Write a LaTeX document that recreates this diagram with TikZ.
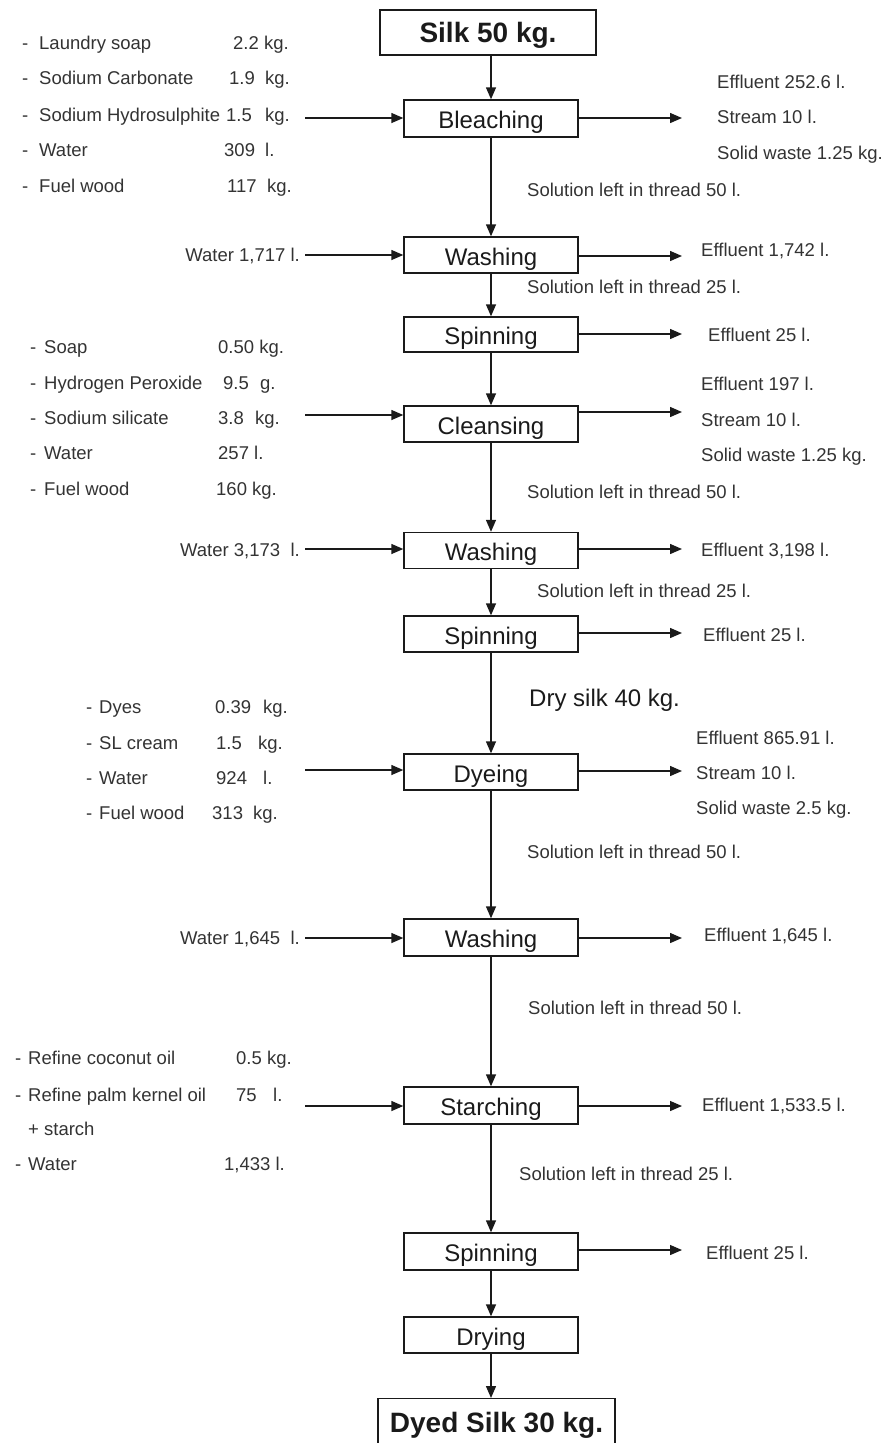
\documentclass[tikz,border=0pt]{standalone}
\usepackage{fontspec}
\setmainfont{Liberation Sans}
\usetikzlibrary{arrows.meta}
\definecolor{ink}{HTML}{1A1A1A}
\definecolor{txt}{HTML}{333333}

\begin{document}
\begin{tikzpicture}[x=1pt,y=-1pt,
  flow/.style={draw=ink, line width=1.4pt, -{Triangle[length=12pt,width=10pt]}},
  procbox/.style={draw=ink, line width=1.4pt, minimum width=174pt, minimum height=36pt,
    inner sep=0pt, text height=20pt, text depth=0pt, text=ink,
    font=\fontsize{24}{28}\selectfont},
  endbox/.style={procbox, minimum width=216pt, minimum height=45pt,
    font=\fontsize{28}{32}\selectfont\bfseries},
  side/.style={anchor=west, inner sep=0pt, text height=13pt, text depth=0pt,
    text=txt, font=\fontsize{18.5}{22}\selectfont},
  sidel/.style={side, anchor=east},
  big/.style={anchor=west, inner sep=0pt, text height=17pt, text depth=0pt,
    text=ink, font=\fontsize{24}{28}\selectfont},
]
\useasboundingbox (0,0) rectangle (888,1443);
\clip (0,0) rectangle (888,1443);

% ---------- process chain ----------
\node[endbox] (silk) at (488,32.5) {Silk 50 kg.};
\node[procbox, minimum height=37pt] (bleach) at (491,118.5) {Bleaching};
\node[procbox] (wash1) at (491,255) {Washing};
\node[procbox, minimum height=35pt] (spin1) at (491,334.5) {Spinning};
\node[procbox] (cleanse) at (491,424) {Cleansing};
\node[procbox] (wash2) at (491,550.5) {Washing};
\node[procbox] (spin2) at (491,634) {Spinning};
\node[procbox] (dye) at (491,772) {Dyeing};
\node[procbox, minimum height=37pt] (wash3) at (491,937.5) {Washing};
\node[procbox, minimum height=37pt] (starch) at (491,1105.5) {Starching};
\node[procbox, minimum height=37pt] (spin3) at (491,1251.5) {Spinning};
\node[procbox] (dry) at (491,1335) {Drying};
\node[endbox, minimum width=237pt, minimum height=48pt, anchor=north]
  (dyed) at (496.5,1398) {Dyed Silk 30 kg.};

\draw[flow] (bleach.north |- silk.south) -- (bleach.north);
\draw[flow] (bleach) -- (wash1);
\draw[flow] (wash1) -- (spin1);
\draw[flow] (spin1) -- (cleanse);
\draw[flow] (cleanse) -- (wash2);
\draw[flow] (wash2) -- (spin2);
\draw[flow] (spin2) -- (dye);
\draw[flow] (dye) -- (wash3);
\draw[flow] (wash3) -- (starch);
\draw[flow] (starch) -- (spin3);
\draw[flow] (spin3) -- (dry);
\draw[flow] (dry.south) -- (dry.south |- dyed.north);

% ---------- inputs (left) ----------
\coordinate (in1) at (305,118);
\coordinate (in2) at (305,255);
\coordinate (in3) at (305,415);
\coordinate (in4) at (305,549);
\coordinate (in5) at (305,770);
\coordinate (in6) at (305,938);
\coordinate (in7) at (305,1106);
\draw[flow] (in1) -- (in1 -| bleach.west);
\draw[flow] (in2) -- (in2 -| wash1.west);
\draw[flow] (in3) -- (in3 -| cleanse.west);
\draw[flow] (in4) -- (in4 -| wash2.west);
\draw[flow] (in5) -- (in5 -| dye.west);
\draw[flow] (in6) -- (in6 -| wash3.west);
\draw[flow] (in7) -- (in7 -| starch.west);

% ---------- outputs (right) ----------
\coordinate (out1) at (682,118);
\coordinate (out2) at (682,256);
\coordinate (out3) at (682,334);
\coordinate (out4) at (682,412);
\coordinate (out5) at (682,549);
\coordinate (out6) at (682,633);
\coordinate (out7) at (682,771);
\coordinate (out8) at (682,938);
\coordinate (out9) at (682,1106);
\coordinate (out10) at (682,1250);
\draw[flow] (out1 -| bleach.east) -- (out1);
\draw[flow] (out2 -| wash1.east) -- (out2);
\draw[flow] (out3 -| spin1.east) -- (out3);
\draw[flow] (out4 -| cleanse.east) -- (out4);
\draw[flow] (out5 -| wash2.east) -- (out5);
\draw[flow] (out6 -| spin2.east) -- (out6);
\draw[flow] (out7 -| dye.east) -- (out7);
\draw[flow] (out8 -| wash3.east) -- (out8);
\draw[flow] (out9 -| starch.east) -- (out9);
\draw[flow] (out10 -| spin3.east) -- (out10);

% ---------- bleaching chemicals ----------
\foreach \y/\name [count=\i] in {43/Laundry soap, 78/Sodium Carbonate,
    115/Sodium Hydrosulphite, 150/Water, 186/Fuel wood}{
  \node[side] (bd\i) at (22,\y) {-};
  \node[side] (bn\i) at (39,\y) {\name};
}
\node[side] (bv1) at (233,43) {2.2};   \node[side] (bu1) at (264,43) {kg.};
\node[side] (bv2) at (229,78) {1.9};   \node[side] (bu2) at (265,78) {kg.};
\node[side] (bv3) at (226,115) {1.5};  \node[side] (bu3) at (265,115) {kg.};
\node[side] (bv4) at (224,150) {309};  \node[side] (bu4) at (265,150) {l.};
\node[side] (bv5) at (227,186) {117};  \node[side] (bu5) at (267,186) {kg.};

\node[side] (bo1) at (717,82) {Effluent 252.6 l.};
\node[side] (bo2) at (717,117) {Stream 10 l.};
\node[side] (bo3) at (717,153) {Solid waste 1.25 kg.};
\node[side] (bs) at (527,190) {Solution left in thread 50 l.};

% ---------- first washing / spinning ----------
\node[sidel] (w1in) at (300,255) {Water 1,717 l.};
\node[side] (w1o) at (701,250) {Effluent 1,742 l.};
\node[side] (w1s) at (527,287) {Solution left in thread 25 l.};
\node[side] (s1o) at (708,335) {Effluent 25 l.};

% ---------- cleansing chemicals ----------
\foreach \y/\name [count=\i] in {347/Soap, 383/Hydrogen Peroxide,
    418/Sodium silicate, 453/Water, 489/Fuel wood}{
  \node[side] (cd\i) at (30,\y) {-};
  \node[side] (cn\i) at (44,\y) {\name};
}
\node[side] (cv1) at (218,347) {0.50 kg.};
\node[side] (cv2) at (223,383) {9.5};  \node[side] (cu2) at (260,383) {g.};
\node[side] (cv3) at (218,418) {3.8};  \node[side] (cu3) at (255,418) {kg.};
\node[side] (cv4) at (218,453) {257 l.};
\node[side] (cv5) at (216,489) {160 kg.};

\node[side] (co1) at (701,384) {Effluent 197 l.};
\node[side] (co2) at (701,420) {Stream 10 l.};
\node[side] (co3) at (701,455) {Solid waste 1.25 kg.};
\node[side] (cs) at (527,492) {Solution left in thread 50 l.};

% ---------- second washing / spinning ----------
\node[sidel] (w2in) at (300,550) {Water 3,173\ \ l.};
\node[side] (w2o) at (701,550) {Effluent 3,198 l.};
\node[side] (w2s) at (537,591) {Solution left in thread 25 l.};
\node[side] (s2o) at (703,635) {Effluent 25 l.};
\node[big] (drysilk) at (529,698) {Dry silk 40 kg.};

% ---------- dyeing chemicals ----------
\foreach \y/\name [count=\i] in {707/Dyes, 743/SL cream, 778/Water, 813/Fuel wood}{
  \node[side] (dd\i) at (86,\y) {-};
  \node[side] (dn\i) at (99,\y) {\name};
}
\node[side] (dv1) at (215,707) {0.39}; \node[side] (du1) at (263,707) {kg.};
\node[side] (dv2) at (216,743) {1.5};  \node[side] (du2) at (258,743) {kg.};
\node[side] (dv3) at (216,778) {924};  \node[side] (du3) at (263,778) {l.};
\node[side] (dv4) at (212,813) {313};  \node[side] (du4) at (253,813) {kg.};

\node[side] (do1) at (696,738) {Effluent 865.91 l.};
\node[side] (do2) at (696,773) {Stream 10 l.};
\node[side] (do3) at (696,808) {Solid waste 2.5 kg.};
\node[side] (ds) at (527,852) {Solution left in thread 50 l.};

% ---------- third washing ----------
\node[sidel] (w3in) at (300,938) {Water 1,645\ \ l.};
\node[side] (w3o) at (704,935) {Effluent 1,645 l.};
\node[side] (w3s) at (528,1008) {Solution left in thread 50 l.};

% ---------- starching ----------
\node[side] (sd1) at (15,1058) {-};
\node[side] (sn1) at (28,1058) {Refine coconut oil};
\node[side] (sd2) at (15,1095) {-};
\node[side] (sn2) at (28,1095) {Refine palm kernel oil};
\node[side] (sn3) at (28,1129) {+ starch};
\node[side] (sd4) at (15,1164) {-};
\node[side] (sn4) at (28,1164) {Water};
\node[side] (sv1) at (236,1058) {0.5 kg.};
\node[side] (sv2) at (236,1095) {75};   \node[side] (su2) at (273,1095) {l.};
\node[side] (sv4) at (224,1164) {1,433 l.};

\node[side] (sto) at (702,1105) {Effluent 1,533.5 l.};
\node[side] (sts) at (519,1174) {Solution left in thread 25 l.};
\node[side] (s3o) at (706,1253) {Effluent 25 l.};

\end{tikzpicture}
\end{document}
